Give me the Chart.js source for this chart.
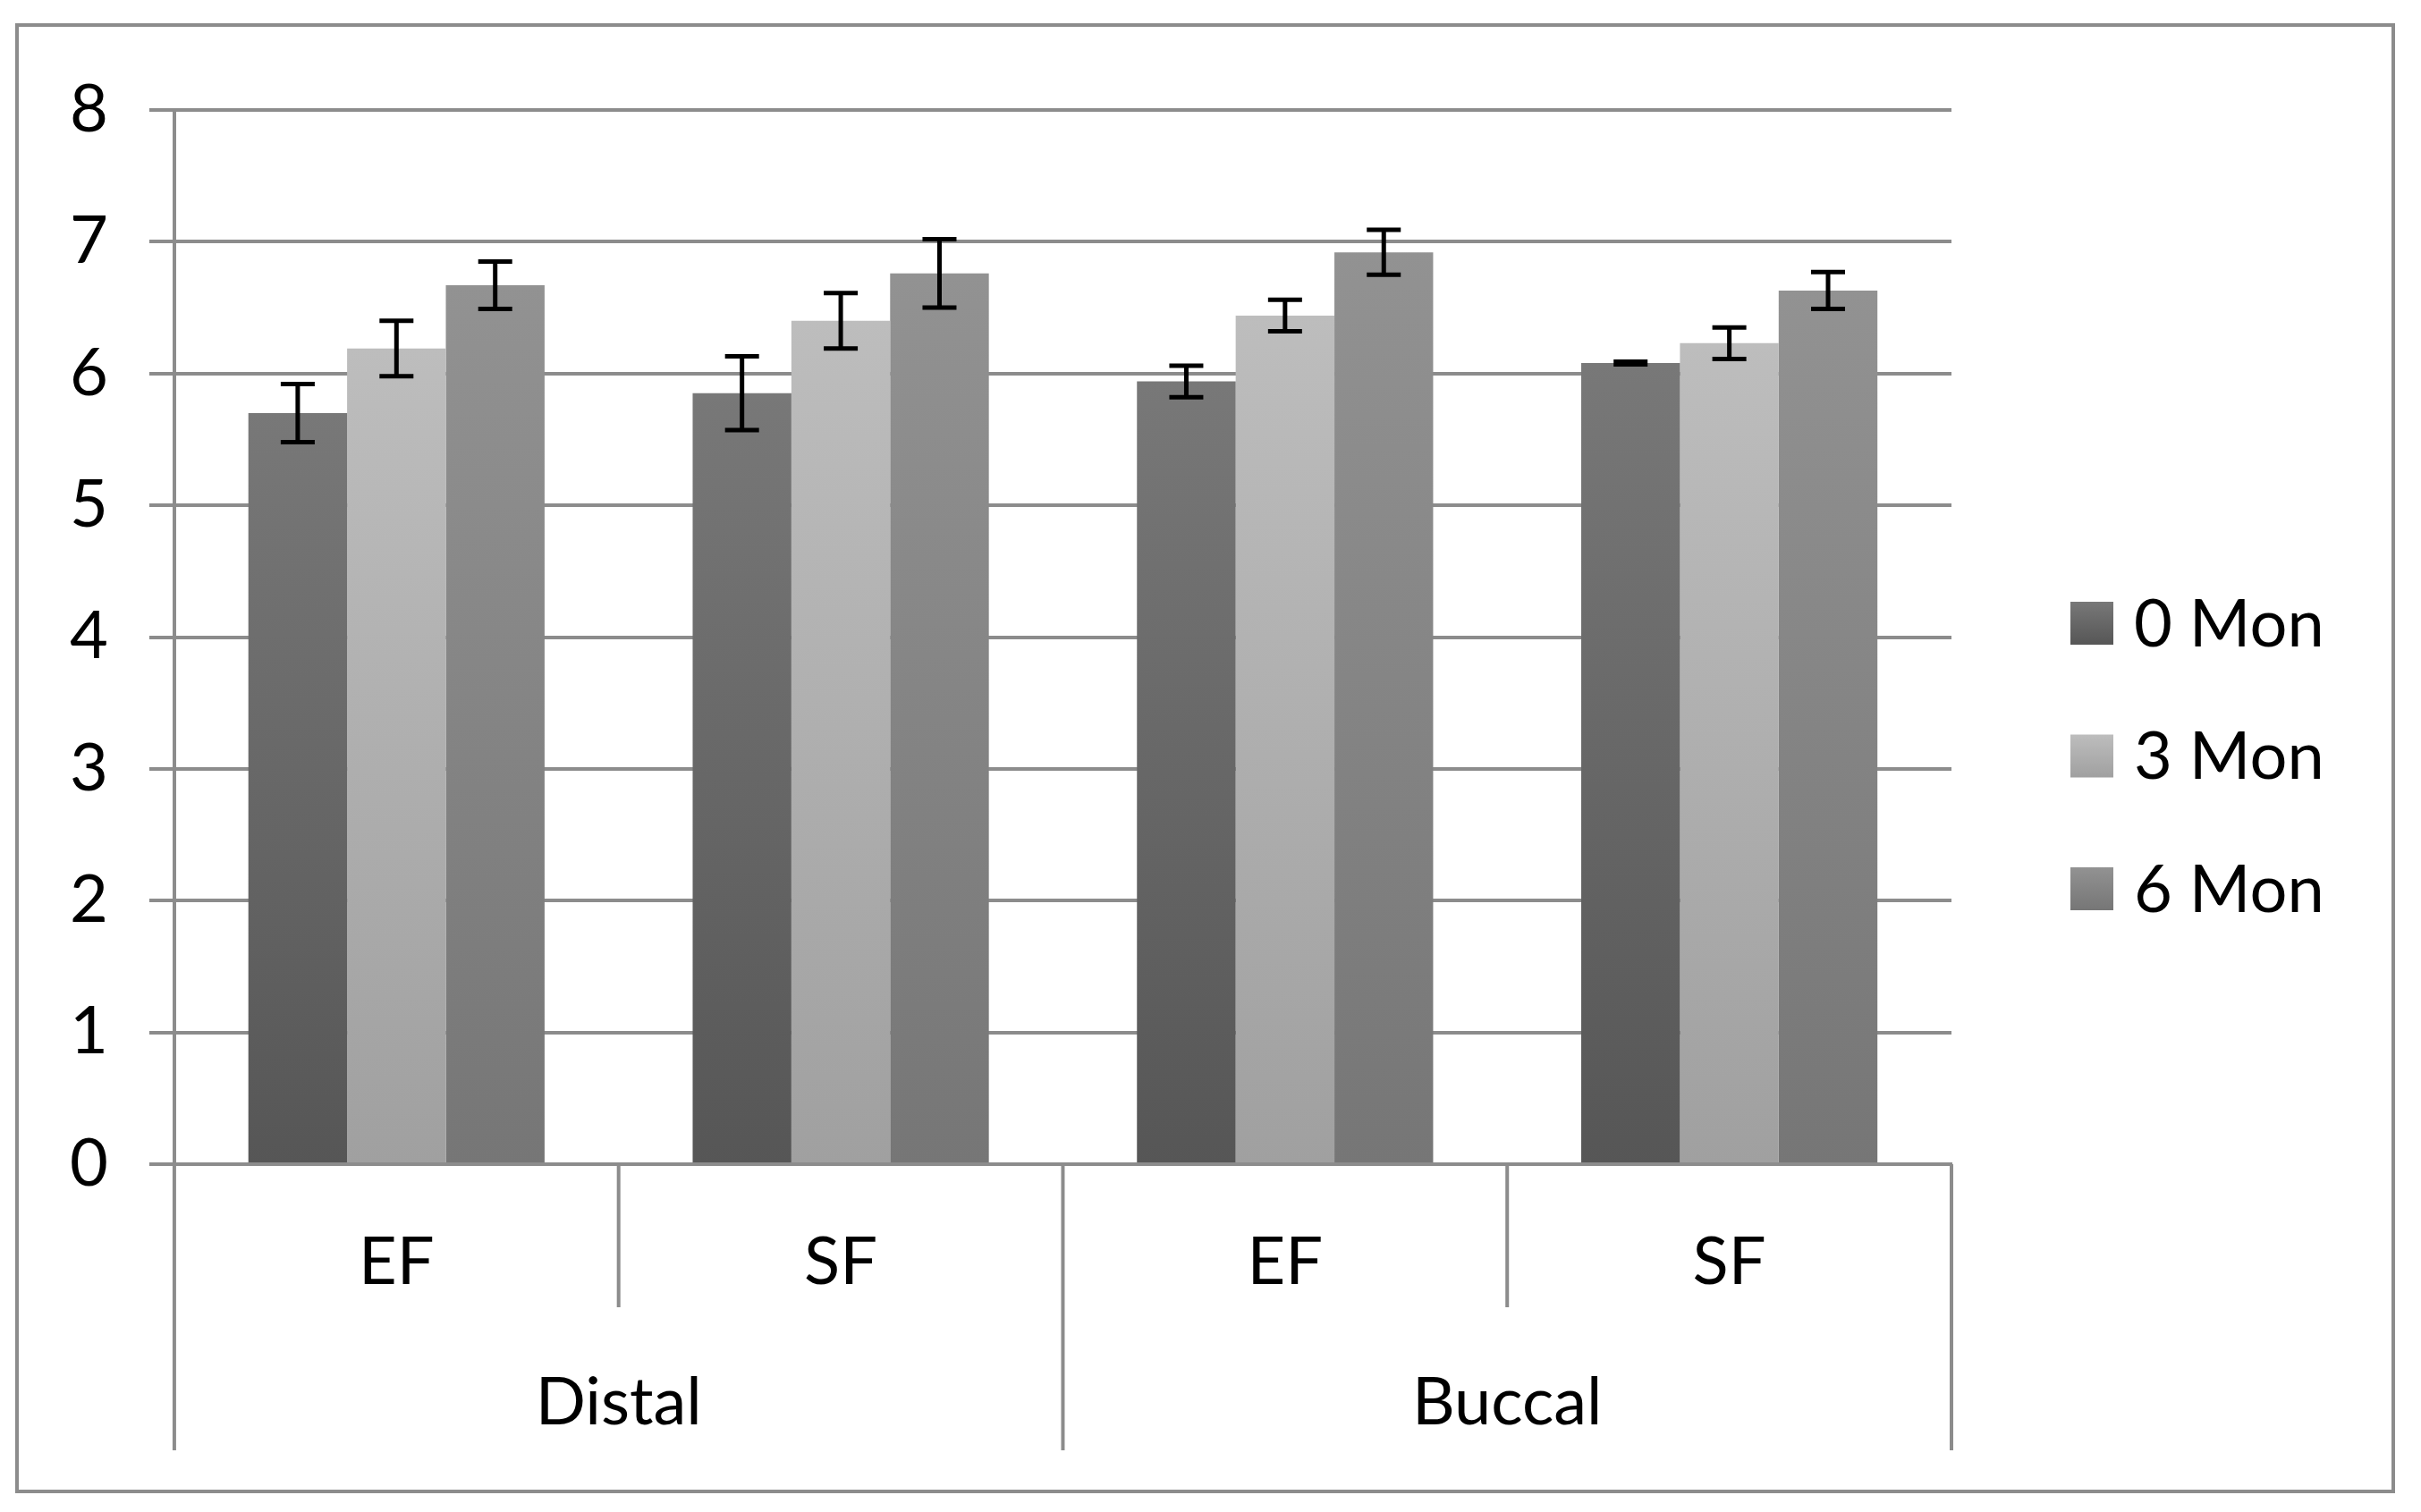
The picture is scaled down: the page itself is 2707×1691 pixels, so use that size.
<!DOCTYPE html>
<html><head><meta charset="utf-8">
<script src="https://cdn.jsdelivr.net/npm/chart.js@4/dist/chart.umd.min.js"></script>
<style>html,body{margin:0;padding:0;background:#fff;overflow:hidden}</style>
</head><body>
<canvas id="c" width="2707" height="1691"></canvas>
<script>
const categories = ['EF', 'SF', 'EF', 'SF'];
const groups = ['Distal', 'Buccal'];
const seriesNames = ['0 Mon', '3 Mon', '6 Mon'];
const mon0 = [5.70, 5.85, 5.94, 6.08];
const mon3 = [6.19, 6.40, 6.44, 6.23];
const mon6 = [6.67, 6.76, 6.92, 6.63];
const err0 = [0.22, 0.28, 0.12, 0.01];
const err3 = [0.21, 0.21, 0.12, 0.12];
const err6 = [0.18, 0.26, 0.17, 0.14];
const yMin = 0, yMax = 8, yStep = 1;

const FONT = 'Lato';
const GRID = '#8c8c8c';
const colors = [['#787878', '#565656'], ['#bdbdbd', '#a0a0a0'], ['#929292', '#767676']];

function barGradient(top, bottom) {
  return (ctx) => {
    const chart = ctx.chart;
    if (!chart.chartArea || ctx.type !== 'data') return top;
    const ys = chart.scales.y;
    const y1 = ys.getPixelForValue(ctx.raw);
    const y0 = ys.getPixelForValue(0);
    if (!isFinite(y1) || !isFinite(y0) || y0 === y1) return top;
    const g = chart.ctx.createLinearGradient(0, y1, 0, y0);
    g.addColorStop(0, top);
    g.addColorStop(1, bottom);
    return g;
  };
}

const decor = {
  id: 'decor',
  beforeDraw(chart) {
    const c = chart.ctx;
    c.save();
    c.strokeStyle = GRID; c.lineWidth = 4;
    c.strokeRect(19, 28, 2657, 1640);
    c.restore();
  },
  afterDatasetsDraw(chart) {
    const c = chart.ctx, ys = chart.scales.y;
    c.save();
    c.strokeStyle = '#000'; c.lineWidth = 5; c.lineCap = 'butt';
    chart.data.datasets.forEach((ds, di) => {
      const meta = chart.getDatasetMeta(di);
      meta.data.forEach((bar, i) => {
        const v = ds.data[i], e = ds.errors[i];
        const x = bar.x;
        const yt = ys.getPixelForValue(v + e), yb = ys.getPixelForValue(v - e);
        c.beginPath();
        c.moveTo(x, yt); c.lineTo(x, yb);
        c.moveTo(x - 19, yt); c.lineTo(x + 19, yt);
        c.moveTo(x - 19, yb); c.lineTo(x + 19, yb);
        c.stroke();
      });
    });
    c.restore();
  },
  afterDraw(chart) {
    const c = chart.ctx, xs = chart.scales.x, x2 = chart.scales.x2, area = chart.chartArea;
    const n = categories.length;
    c.save();
    c.strokeStyle = GRID; c.lineWidth = 4;
    for (let i = 0; i <= n; i++) {
      let px;
      if (i === 0) px = area.left;
      else if (i === n) px = area.right;
      else px = (xs.getPixelForValue(i - 1) + xs.getPixelForValue(i)) / 2;
      const yEnd = (i % 2 === 0) ? x2.bottom : xs.bottom;
      c.beginPath(); c.moveTo(px, area.bottom); c.lineTo(px, yEnd); c.stroke();
    }
    // legend
    const lx = area.right + 133;
    const cy = chart.height / 2;
    const step = 148.5;
    c.font = '74px ' + FONT;
    c.textBaseline = 'middle';
    c.textAlign = 'left';
    chart.data.datasets.forEach((ds, di) => {
      const y = cy + (di - 1) * step;
      const g = c.createLinearGradient(0, y - 24, 0, y + 24);
      g.addColorStop(0, colors[di][0]); g.addColorStop(1, colors[di][1]);
      c.fillStyle = g;
      c.fillRect(lx, y - 24, 48, 48);
      c.fillStyle = '#000';
      c.fillText(ds.label, lx + 71, y + 2);
    });
    c.restore();
  }
};

const datasets = [mon0, mon3, mon6].map((d, i) => ({
  label: seriesNames[i],
  data: d,
  errors: [err0, err3, err6][i],
  backgroundColor: barGradient(colors[i][0], colors[i][1]),
  borderWidth: 0,
  barPercentage: 1,
  categoryPercentage: 0.6667
}));

new Chart(document.getElementById('c'), {
  type: 'bar',
  data: { labels: categories, datasets },
  options: {
    responsive: false,
    animation: false,
    devicePixelRatio: 1,
    layout: { padding: { left: 32, right: 525, top: 123, bottom: 69 } },
    plugins: { legend: { display: false }, tooltip: { enabled: false } },
    scales: {
      y: {
        min: yMin, max: yMax,
        ticks: { stepSize: yStep, color: '#000', font: { family: FONT, size: 74 }, padding: 46 },
        grid: { color: GRID, lineWidth: 4, tickLength: 28, drawTicks: true },
        border: { display: true, color: GRID, width: 4 }
      },
      x: {
        type: 'category',
        position: 'bottom',
        grid: { display: false, drawTicks: false },
        border: { display: true, color: GRID, width: 4 },
        ticks: { color: '#000', font: { family: FONT, size: 74 }, padding: 66, maxRotation: 0, autoSkip: false },
        afterFit(axis) { axis.height = 160; }
      },
      x2: {
        type: 'category',
        labels: groups,
        position: 'bottom',
        offset: true,
        grid: { display: false, drawTicks: false },
        border: { display: false },
        ticks: { color: '#000', font: { family: FONT, size: 74 }, padding: 63, maxRotation: 0, autoSkip: false },
        afterFit(axis) { axis.height = 160; }
      }
    }
  },
  plugins: [decor]
});
</script>
</body></html>
